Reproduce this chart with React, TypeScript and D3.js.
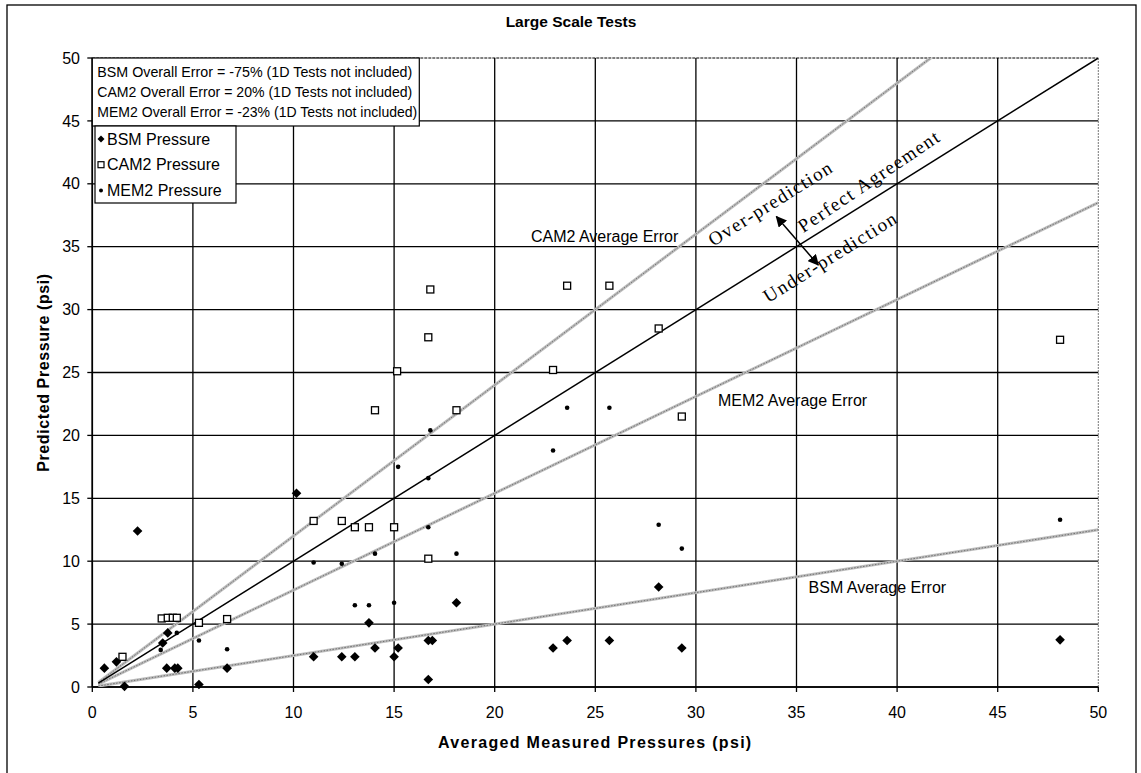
import React from "react";
import * as d3 from "d3";

const W = 1141;
const H = 773;

// ---- data ----
const xTicks = [0, 5, 10, 15, 20, 25, 30, 35, 40, 45, 50];
const yTicks = [0, 5, 10, 15, 20, 25, 30, 35, 40, 45, 50];

const bsmX = [0.6, 1.2, 1.6, 2.25, 3.5, 3.75, 3.7, 4.1, 4.25, 5.3, 6.7, 10.15, 11.0, 12.4, 13.05, 13.75, 14.05, 15.0, 15.2, 16.7, 16.9, 16.7, 18.1, 22.9, 23.6, 25.7, 28.15, 29.3, 48.1];
const bsmY = [1.5, 2.0, 0.05, 12.4, 3.5, 4.3, 1.5, 1.5, 1.5, 0.2, 1.5, 15.4, 2.4, 2.4, 2.4, 5.1, 3.1, 2.4, 3.1, 3.7, 3.7, 0.6, 6.7, 3.1, 3.7, 3.7, 7.95, 3.1, 3.75];

const camX = [1.5, 3.45, 3.75, 4.0, 4.2, 5.3, 6.7, 11.0, 12.4, 13.05, 13.75, 15.0, 16.7, 14.05, 15.15, 16.7, 16.8, 18.1, 22.9, 23.6, 25.7, 28.15, 29.3, 48.1];
const camY = [2.4, 5.45, 5.5, 5.5, 5.5, 5.1, 5.4, 13.2, 13.2, 12.7, 12.7, 12.7, 10.2, 22.0, 25.1, 27.8, 31.6, 22.0, 25.2, 31.9, 31.9, 28.5, 21.5, 27.6];

const memX = [3.4, 4.2, 5.3, 6.7, 11.0, 12.4, 13.05, 13.75, 14.05, 15.0, 15.2, 16.7, 16.7, 16.8, 18.1, 22.9, 23.6, 25.7, 28.15, 29.3, 48.1];
const memY = [2.95, 4.3, 3.7, 3.0, 9.9, 9.8, 6.5, 6.5, 10.6, 6.7, 17.5, 12.7, 16.6, 20.4, 10.6, 18.8, 22.2, 22.2, 12.9, 11.0, 13.3];

const avgSlopes = [1.2, 0.77, 0.25]; // CAM2, MEM2, BSM average error lines
const avgLabels = ["CAM2 Average Error", "MEM2 Average Error", "BSM Average Error"];
const avgLabelX = [21.8, 31.1, 35.6];
const avgLabelY = [35.8, 22.8, 7.9];

const errorLines = [
  "BSM Overall Error = -75% (1D Tests not included)",
  "CAM2 Overall Error = 20% (1D Tests not included)",
  "MEM2 Overall Error = -23% (1D Tests not included)",
];
const seriesNames = ["BSM Pressure", "CAM2 Pressure", "MEM2 Pressure"];

const FONT = "'Liberation Sans', Arial, Helvetica, sans-serif";
const SERIF = "'Liberation Serif', 'Times New Roman', serif";

const diamond = (r: number) => `M0,${-r}L${r},0L0,${r}L${-r},0Z`;

export default function App() {
  const x = d3.scaleLinear().domain([0, 50]).range([92.3, 1098.3]);
  const y = d3.scaleLinear().domain([0, 50]).range([687, 58]);
  const line = d3.line<[number, number]>().x((d) => x(d[0])).y((d) => y(d[1]));

  const slopeLine = (s: number): [number, number][] => {
    const x0 = 0.3;
    const x1 = Math.min(50, 50 / s);
    return [
      [x0, s * x0],
      [x1, s * x1],
    ];
  };

  const bsm = bsmX.map((v, i) => [v, bsmY[i]]);
  const cam = camX.map((v, i) => [v, camY[i]]);
  const mem = memX.map((v, i) => [v, memY[i]]);

  const angle = (-Math.atan((y(0) - y(1)) / (x(1) - x(0))) * 180) / Math.PI;

  return (
    <svg
      width={W}
      height={H}
      style={{ position: "absolute", left: 0, top: 0, background: "#fff" }}
      fontFamily={FONT}
    >
      <defs>
        <marker id="ah" viewBox="0 0 10 10" refX="9" refY="5" markerWidth="11" markerHeight="11" markerUnits="userSpaceOnUse" orient="auto-start-reverse">
          <path d="M0,0L10,5L0,10Z" fill="#000" />
        </marker>
        <clipPath id="plotclip">
          <rect x={x(0)} y={y(50)} width={x(50) - x(0)} height={y(0) - y(50)} />
        </clipPath>
      </defs>
      <rect x={0} y={0} width={W} height={H} fill="#fff" />
      {/* outer frame */}
      <rect x={7} y={5} width={1129} height={800} fill="none" stroke="#000" strokeWidth={1.3} />

      {/* title */}
      <text x={571} y={22} dy="0.35em" textAnchor="middle" fontWeight="bold" fontSize={15.5}>
        Large Scale Tests
      </text>

      {/* gridlines */}
      {yTicks.map((t) => (
        <line key={"gy" + t} x1={x(0)} x2={x(50)} y1={y(t)} y2={y(t)} stroke="#000" strokeWidth={t === 50 ? 1 : 1.3} strokeDasharray={t === 50 ? "3,1" : undefined} />
      ))}
      {xTicks.map((t) => (
        <line key={"gx" + t} x1={x(t)} x2={x(t)} y1={y(0)} y2={y(50)} stroke={t === 50 ? "#777" : "#000"} strokeWidth={t === 50 ? 1 : 1.3} strokeDasharray={t === 50 ? "2,1" : undefined} />
      ))}
      {/* axes */}
      <line x1={x(0)} x2={x(0)} y1={y(0)} y2={y(50)} stroke="#000" strokeWidth={1.6} />
      <line x1={x(0)} x2={x(50)} y1={y(0)} y2={y(0)} stroke="#000" strokeWidth={1.6} />
      {yTicks.map((t) => (
        <g key={"ty" + t}>
          <line x1={x(0) - 5} x2={x(0)} y1={y(t)} y2={y(t)} stroke="#000" strokeWidth={1.3} />
          <text x={80} y={y(t)} dy="0.35em" textAnchor="end" fontSize={16}>
            {t}
          </text>
        </g>
      ))}
      {xTicks.map((t) => (
        <g key={"tx" + t}>
          <line x1={x(t)} x2={x(t)} y1={y(0)} y2={y(0) + 5} stroke="#000" strokeWidth={1.3} />
          <text x={x(t)} y={712} dy="0.35em" textAnchor="middle" fontSize={16}>
            {t}
          </text>
        </g>
      ))}

      {/* axis titles */}
      <text x={(x(0) + x(50)) / 2} y={742} dy="0.35em" textAnchor="middle" fontWeight="bold" fontSize={16} letterSpacing={1.3}>
        Averaged Measured Pressures (psi)
      </text>
      <text transform={`translate(43,${(y(0) + y(50)) / 2}) rotate(-90)`} dy="0.35em" textAnchor="middle" fontWeight="bold" fontSize={16} letterSpacing={0.6}>
        Predicted Pressure (psi)
      </text>

      {/* reference lines */}
      <g clipPath="url(#plotclip)">
        {avgSlopes.map((s, i) => (
          <g key={"avg" + i}>
            <path d={line(slopeLine(s)) || ""} stroke="#bdbdbd" strokeWidth={3} fill="none" />
            <path d={line(slopeLine(s)) || ""} stroke="#707070" strokeWidth={1} strokeDasharray="1.5,1.5" fill="none" />
          </g>
        ))}
        <path d={line(slopeLine(1)) || ""} stroke="#000" strokeWidth={1.5} fill="none" />
      </g>

      {/* average error labels */}
      {avgLabels.map((l, i) => (
        <text key={l} x={x(avgLabelX[i])} y={y(avgLabelY[i])} dy="0.35em" fontSize={16}>
          {l}
        </text>
      ))}

      {/* rotated annotations */}
      <g fontFamily={SERIF} fontSize={19} letterSpacing={1.5}>
        <text transform={`translate(${x(30.86)},${y(35.0)}) rotate(${angle})`}>Over-prediction</text>
        <text transform={`translate(${x(35.34)},${y(36.07)}) rotate(${angle - 2})`}>Perfect Agreement</text>
        <text transform={`translate(${x(33.6)},${y(30.5)}) rotate(${angle})`}>Under-prediction</text>
      </g>
      <line x1={x(34.0)} y1={y(37.4)} x2={x(36.08)} y2={y(33.55)} stroke="#000" strokeWidth={1.5} markerStart="url(#ah)" markerEnd="url(#ah)" />

      {/* data points */}
      {cam.map((d, i) => (
        <rect key={"c" + i} x={x(d[0]) - 3.5} y={y(d[1]) - 3.5} width={7} height={7} fill="#fff" stroke="#000" strokeWidth={1.3} />
      ))}
      {mem.map((d, i) => (
        <circle key={"m" + i} cx={x(d[0])} cy={y(d[1])} r={2.3} fill="#000" />
      ))}
      {bsm.map((d, i) => (
        <path key={"b" + i} d={diamond(4.8)} transform={`translate(${x(d[0])},${y(d[1])})`} fill="#000" />
      ))}

      {/* legend: error text box */}
      <rect x={x(0)} y={y(50)} width={327} height={68} fill="#fff" stroke="#000" strokeWidth={1.2} />
      {errorLines.map((l, i) => (
        <text
          key={l}
          x={x(0) + 5}
          y={y(50) + 14 + i * 20}
          dy="0.35em"
          fontSize={15}
          textLength={i === 2 ? 320 : 315}
          lengthAdjust="spacingAndGlyphs"
        >
          {l}
        </text>
      ))}
      {/* legend: series */}
      <rect x={95} y={y(50) + 68} width={141} height={77} fill="#fff" stroke="#000" strokeWidth={1.2} />
      {seriesNames.map((n, i) => {
        const cy = y(50) + 81 + i * 25.7;
        return (
          <g key={n}>
            {i === 0 && <path d={diamond(3.5)} transform={`translate(101,${cy})`} fill="#000" />}
            {i === 1 && <rect x={98} y={cy - 3} width={6} height={6} fill="#fff" stroke="#000" strokeWidth={1.2} />}
            {i === 2 && <circle cx={101} cy={cy} r={2} fill="#000" />}
            <text x={107} y={cy} dy="0.35em" fontSize={16}>
              {n}
            </text>
          </g>
        );
      })}
    </svg>
  );
}
